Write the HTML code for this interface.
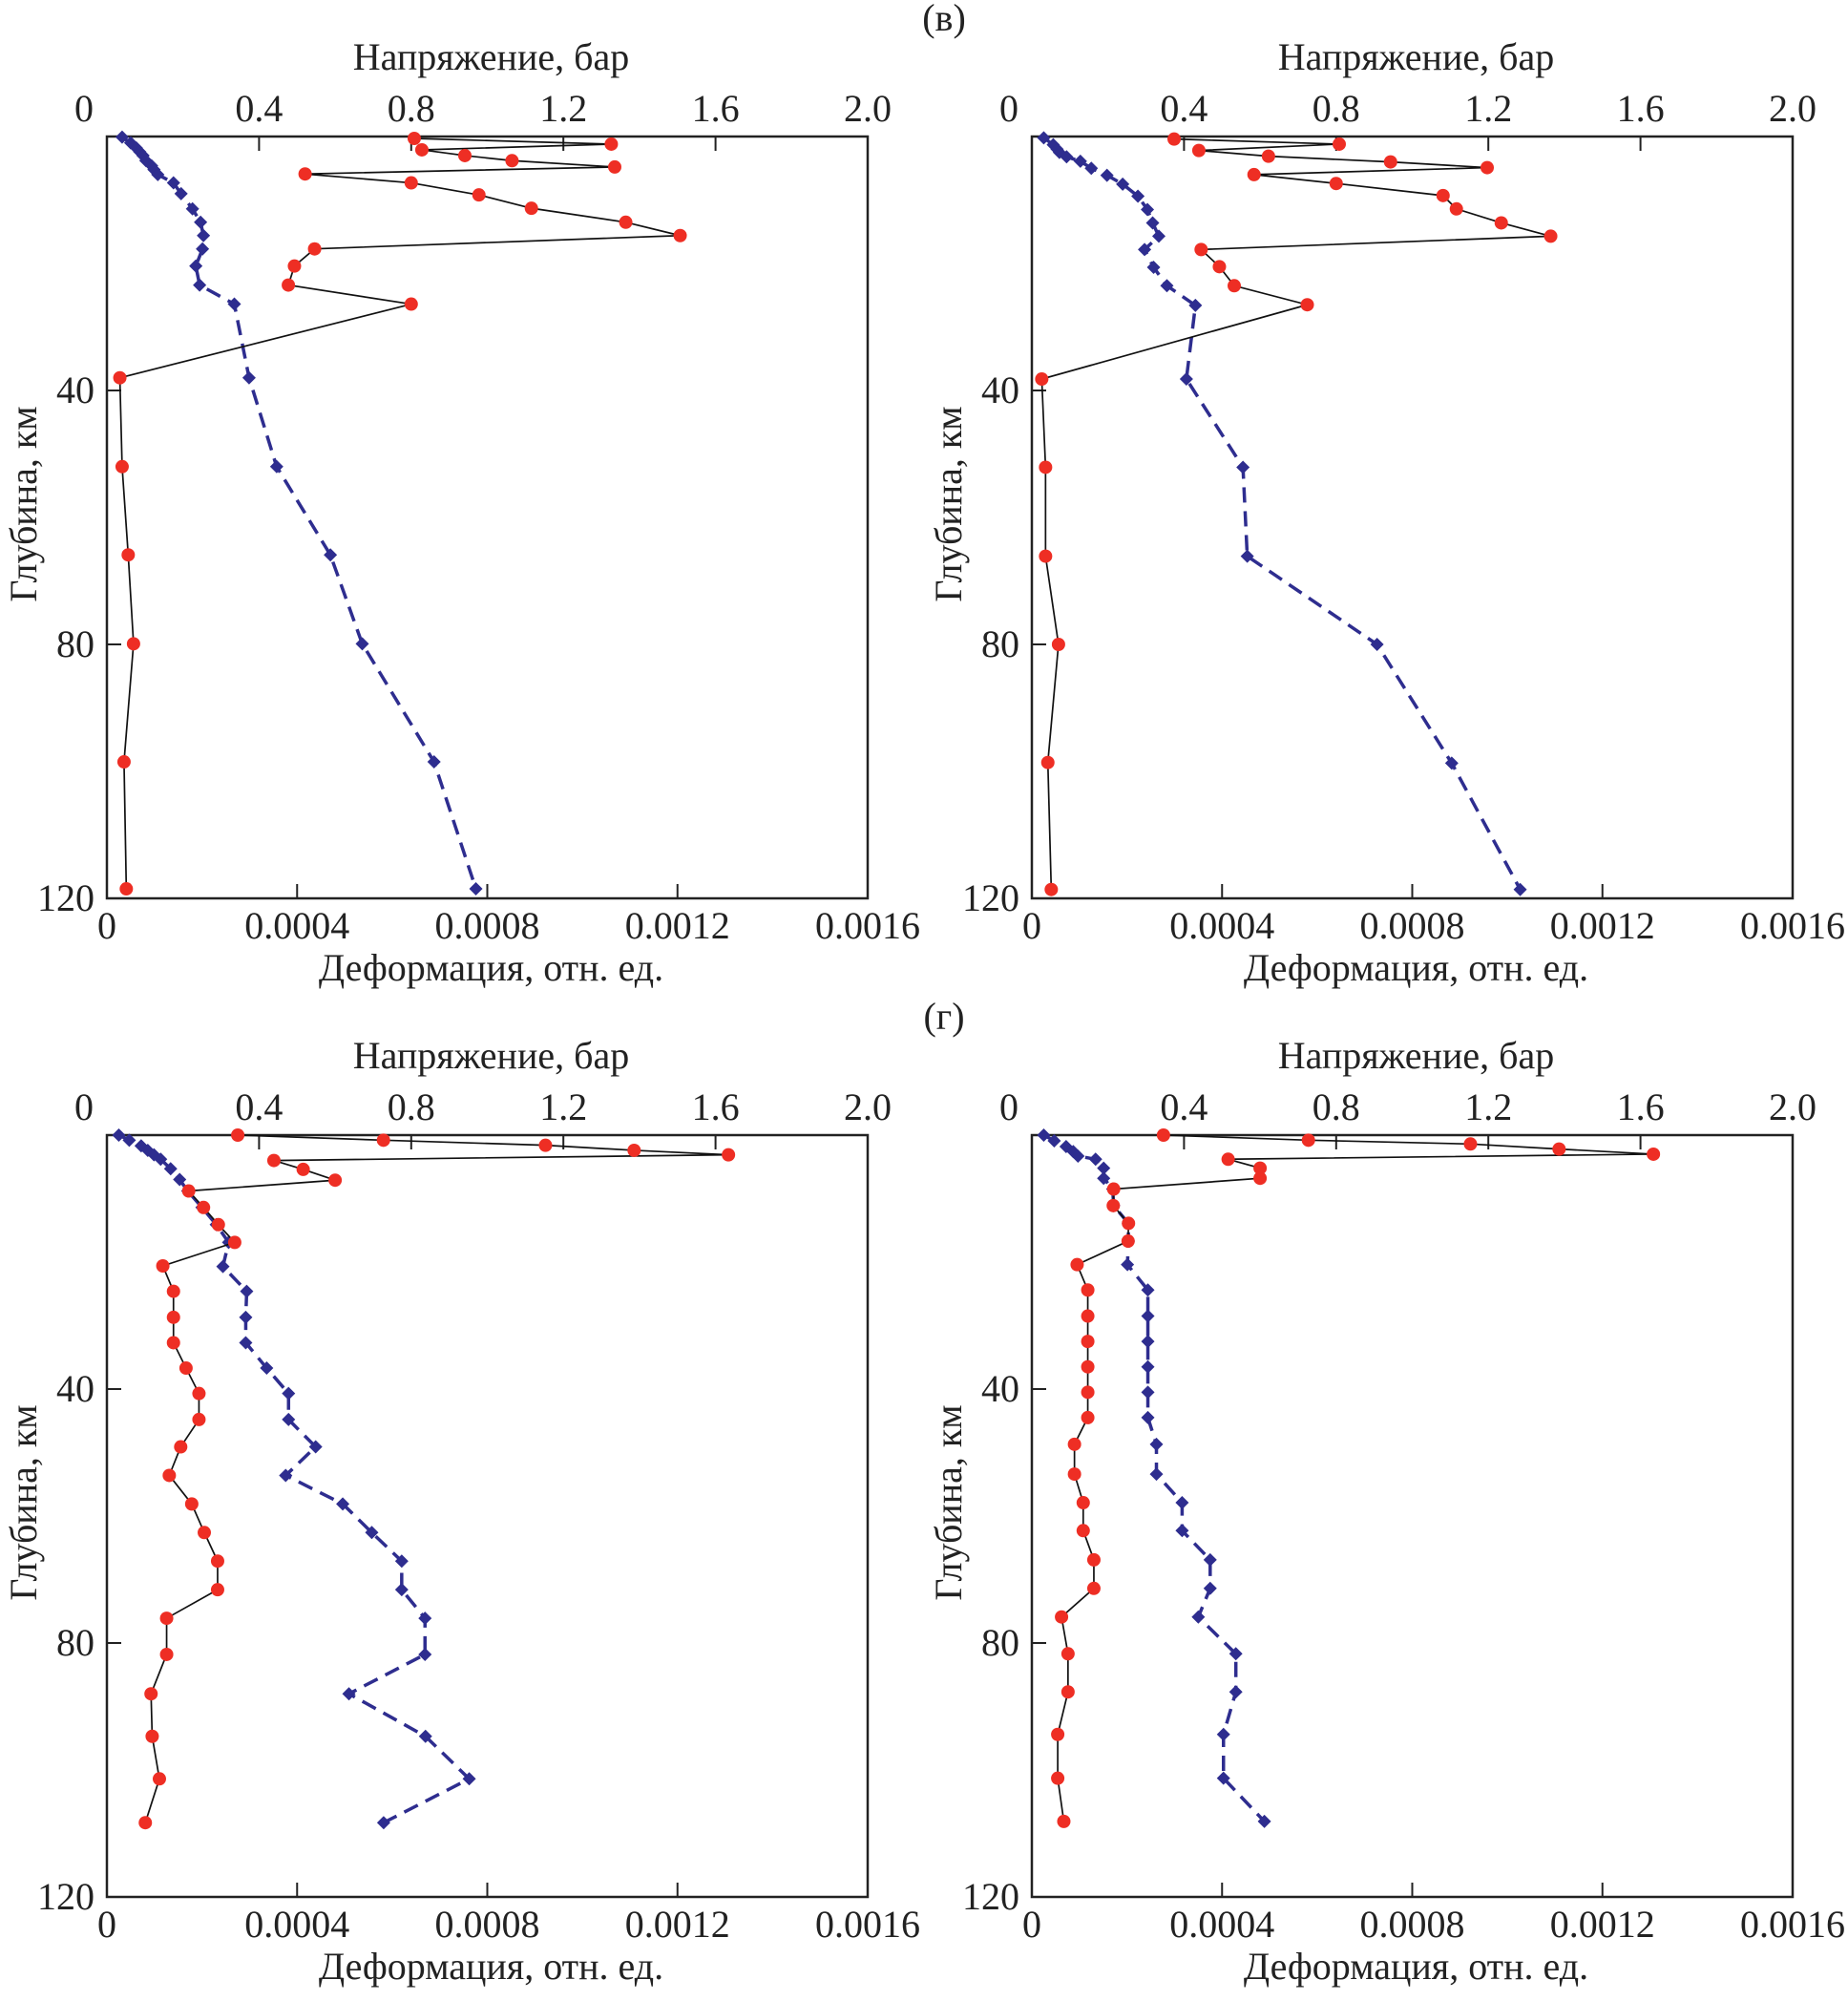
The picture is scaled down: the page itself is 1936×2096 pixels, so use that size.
<!DOCTYPE html>
<html><head><meta charset="utf-8">
<style>
html,body{margin:0;padding:0;background:#fff;}
svg{display:block;}
text{font-family:"Liberation Serif","Times New Roman",serif;fill:#222;}
</style></head>
<body>
<svg id="fig" width="1936" height="2096" viewBox="0 0 1936 2096" xmlns="http://www.w3.org/2000/svg" font-family="Liberation Serif, Times New Roman, serif"></svg>
<script>
// Panel 1 (в, left)
const p1StressDepth=[0.3,1.2,2.1,3.0,3.8,4.8,5.9,7.3,9.2,11.3,13.5,15.6,17.7,20.4,23.4,26.4,38.0,52.0,65.9,79.9,98.5,118.5];
const p1Stress=[0.808,1.326,0.828,0.941,1.065,1.335,0.521,0.800,0.978,1.116,1.364,1.507,0.546,0.493,0.477,0.800,0.034,0.040,0.056,0.070,0.045,0.051];
const p1StrainDepth=[0.1,1.0,1.8,2.4,3.0,3.8,4.6,5.2,6.0,7.3,9.0,11.4,13.5,15.6,17.7,20.4,23.4,26.4,38.0,52.0,65.9,79.9,98.5,118.5];
const p1Strain=[0.32,0.50,0.62,0.69,0.76,0.82,0.94,0.99,1.07,1.40,1.56,1.80,1.97,2.03,2.01,1.87,1.95,2.68,2.99,3.57,4.70,5.37,6.88,7.76];
// Panel 2 (в, right)
const p2StressDepth=[0.4,1.2,2.2,3.1,4.0,4.9,6.0,7.4,9.3,11.4,13.6,15.7,17.8,20.5,23.5,26.5,38.2,52.1,66.1,80.0,98.6,118.6];
const p2Stress=[0.374,0.808,0.439,0.622,0.943,1.197,0.584,0.800,1.081,1.116,1.234,1.364,0.445,0.493,0.532,0.724,0.026,0.036,0.036,0.070,0.042,0.051];
const p2StrainDepth=[0.2,1.3,2.0,2.5,3.2,3.9,5.0,6.1,7.5,9.4,11.5,13.6,15.7,17.8,20.6,23.5,26.6,38.2,52.1,66.1,80.0,98.7,118.6];
const p2Strain=[0.25,0.45,0.53,0.58,0.73,1.02,1.25,1.58,1.91,2.23,2.43,2.54,2.67,2.37,2.56,2.84,3.44,3.25,4.44,4.53,7.26,8.83,10.27];
// Panel 3 (г, left)
const p3StressDepth=[0,0.8,1.6,2.4,3.1,4.0,5.4,7.1,8.8,11.4,14.1,16.9,20.6,24.6,28.7,32.7,36.7,40.7,44.8,49.1,53.6,58.1,62.6,67.1,71.6,76.1,81.8,88.0,94.7,101.4,108.3];
const p3Stress=[0.344,0.727,1.153,1.386,1.634,0.439,0.516,0.600,0.215,0.254,0.293,0.336,0.147,0.175,0.175,0.175,0.208,0.242,0.242,0.194,0.164,0.223,0.256,0.291,0.291,0.157,0.157,0.116,0.119,0.138,0.101];
const p3StrainDepth=[0,0.8,1.7,2.4,3.1,3.8,5.3,7.0,8.8,11.4,14.1,16.9,20.7,24.6,28.7,32.7,36.7,40.7,44.8,49.1,53.6,58.1,62.6,67.1,71.6,76.1,81.8,88.0,94.7,101.4,108.3];
const p3Strain=[0.25,0.47,0.72,0.86,0.99,1.13,1.34,1.53,1.70,2.00,2.30,2.56,2.44,2.94,2.92,2.92,3.36,3.82,3.82,4.39,3.76,4.96,5.57,6.20,6.20,6.69,6.69,5.09,6.70,7.62,5.82];
// Panel 4 (г, right)
const p4StressDepth=[0,0.8,1.4,2.2,3.0,3.8,5.2,6.8,8.5,11.1,13.9,16.7,20.4,24.4,28.5,32.5,36.5,40.5,44.5,48.7,53.4,57.9,62.3,66.9,71.4,75.9,81.7,87.7,94.4,101.3,108.1];
const p4Stress=[0.346,0.727,1.153,1.386,1.634,0.516,0.600,0.600,0.215,0.214,0.254,0.253,0.119,0.147,0.147,0.147,0.147,0.147,0.147,0.112,0.112,0.135,0.135,0.163,0.163,0.078,0.095,0.095,0.068,0.068,0.084];
const p4StrainDepth=[0,0.9,1.8,2.6,3.3,3.8,5.2,6.8,8.5,11.1,13.9,16.7,20.4,24.4,28.5,32.5,36.5,40.5,44.5,48.7,53.4,57.9,62.3,66.9,71.4,75.9,81.7,87.7,94.4,101.3,108.1];
const p4Strain=[0.25,0.47,0.72,0.87,0.97,1.34,1.51,1.51,1.70,1.72,2.03,2.03,2.01,2.44,2.44,2.44,2.44,2.44,2.44,2.62,2.62,3.16,3.16,3.75,3.75,3.50,4.29,4.29,4.03,4.03,4.89];

const stressTicks=["0","0.4","0.8","1.2","1.6","2.0"];
const strainTicks=["0","0.0004","0.0008","0.0012","0.0016"];
const depthTicks=["40","80","120"];

const NS="http://www.w3.org/2000/svg";
const svg=document.getElementById('fig');
const FF='"Liberation Serif","Times New Roman",serif';
function mk(tag,attrs,parent){const e=document.createElementNS(NS,tag);for(const k in attrs)e.setAttribute(k,attrs[k]);if(tag==='text')e.style.fontFamily=FF;(parent||svg).appendChild(e);return e;}

const W=797,H=798;
const panels=[
 {x:112,y:143,sd:p1StressDepth,s:p1Stress,ed:p1StrainDepth,e:p1Strain,name:'panel-v-left'},
 {x:1081,y:143,sd:p2StressDepth,s:p2Stress,ed:p2StrainDepth,e:p2Strain,name:'panel-v-right'},
 {x:112,y:1189,sd:p3StressDepth,s:p3Stress,ed:p3StrainDepth,e:p3Strain,name:'panel-g-left'},
 {x:1081,y:1189,sd:p4StressDepth,s:p4Stress,ed:p4StrainDepth,e:p4Strain,name:'panel-g-right'}
];

let t=mk('text',{x:989,y:32,'font-size':40,'text-anchor':'middle'});t.textContent='(в)';


t=mk('text',{x:989,y:1078,'font-size':40,'text-anchor':'middle'});t.textContent='(г)';



panels.forEach(p=>{
  const g=mk('g',{});
  
  
  const xS=v=>p.x+v/2.0*W;
  const xE=v=>p.x+v/16*W;
  const yD=d=>p.y+d/120*H;
  const fr=mk('rect',{x:p.x,y:p.y,width:W,height:H,fill:'none',stroke:'#222','stroke-width':2.5},g);
  
  
  stressTicks.forEach((lab,i)=>{
    const v=parseFloat(lab),x=xS(v);
    if(i>0&&i<stressTicks.length-1){const tk=mk('line',{x1:x,y1:p.y,x2:x,y2:p.y+15,stroke:'#222','stroke-width':2},g);
      
      }
    const tx=mk('text',{x:i===0?x-24:x,y:p.y-16,'font-size':40,'text-anchor':'middle'},g);tx.textContent=lab;
    
    
  });
  strainTicks.forEach((lab,i)=>{
    const v=parseFloat(lab)*1e4,x=xE(v);
    if(i>0&&i<strainTicks.length-1){const tk=mk('line',{x1:x,y1:p.y+H,x2:x,y2:p.y+H-15,stroke:'#222','stroke-width':2},g);
      
      }
    const tx=mk('text',{x:x,y:p.y+H+42,'font-size':40,'text-anchor':'middle'},g);tx.textContent=lab;
    
    
  });
  depthTicks.forEach(lab=>{
    const y=yD(parseFloat(lab));
    if(lab!=='120'){const tk=mk('line',{x1:p.x,y1:y,x2:p.x+15,y2:y,stroke:'#222','stroke-width':2},g);
      
      }
    const tx=mk('text',{x:p.x-13,y:y+13,'font-size':40,'text-anchor':'end'},g);tx.textContent=lab;
    
    
  });
  let tt=mk('text',{x:p.x+W/2+4,y:p.y-70,'font-size':40,'text-anchor':'middle'},g);tt.textContent='Напряжение, бар';
  
  
  tt=mk('text',{x:p.x+W/2+4,y:p.y+H+86,'font-size':40,'text-anchor':'middle'},g);tt.textContent='Деформация, отн. ед.';
  
  
  const ty=p.y+H/2-14;
  tt=mk('text',{x:0,y:0,'font-size':40,'text-anchor':'middle',transform:`translate(${p.x-74},${ty}) rotate(-90)`},g);tt.textContent='Глубина, км';
  
  
  const ep=p.e.map((v,i)=>[xE(v),yD(p.ed[i])]);
  const bl=mk('polyline',{points:ep.map(q=>q.join(',')).join(' '),fill:'none',stroke:'#2e2d8f','stroke-width':3.5,'stroke-dasharray':'16,9'},g);
  
  
  ep.forEach(q=>{
    const d=mk('polygon',{points:`${q[0]},${q[1]-7} ${q[0]+7},${q[1]} ${q[0]},${q[1]+7} ${q[0]-7},${q[1]}`,fill:'#2e2d8f'},g);
    
    
  });
  const sp=p.s.map((v,i)=>[xS(v),yD(p.sd[i])]);
  const rl=mk('polyline',{points:sp.map(q=>q.join(',')).join(' '),fill:'none',stroke:'#111','stroke-width':1.7},g);
  
  
  sp.forEach(q=>{
    const c=mk('circle',{cx:q[0],cy:q[1],r:7,fill:'#ee2e24'},g);
    
    
  });
});
</script>
</body></html>
